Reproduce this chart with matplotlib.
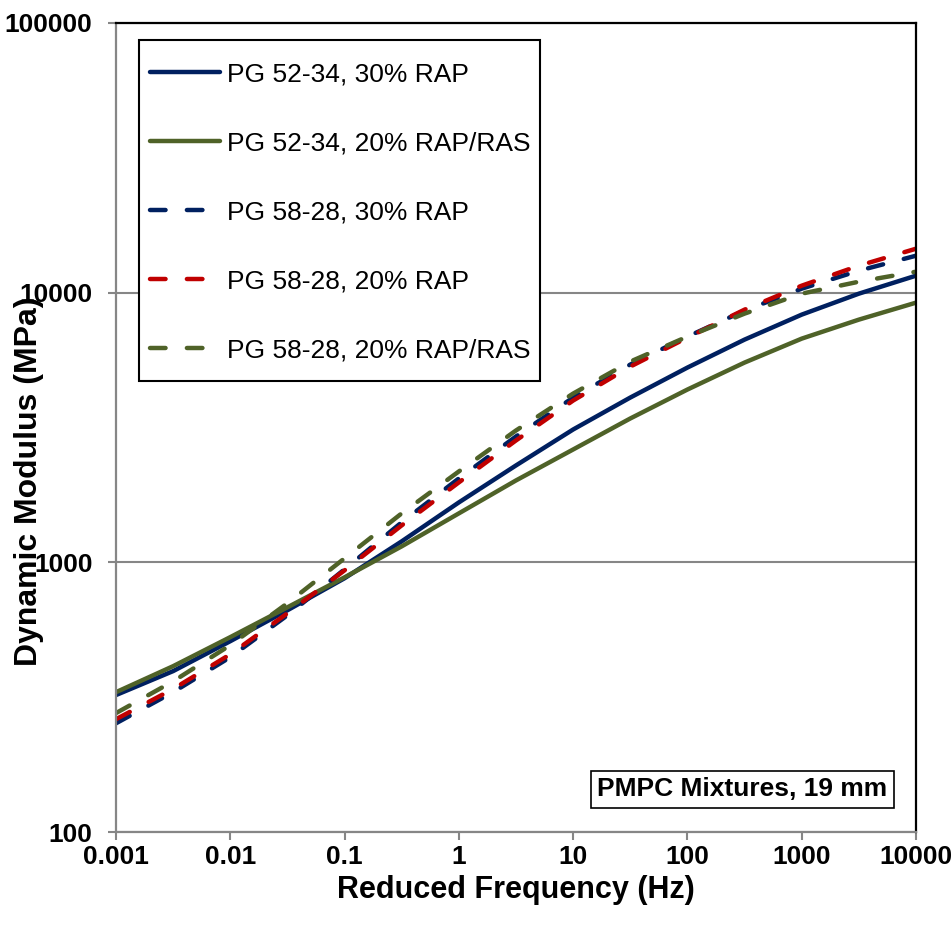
import matplotlib

matplotlib.use("Agg")
import matplotlib.pyplot as plt
from matplotlib.patches import Rectangle
from matplotlib.ticker import FixedLocator, FuncFormatter, NullLocator

# reduced frequency (Hz), half-decade readings
FREQ = [0.001, 0.00316, 0.01, 0.0316, 0.1, 0.316, 1, 3.16, 10, 31.6,
        100, 316, 1000, 3162, 10000]

# dynamic modulus (MPa)
PG5234_30RAP = [322, 395, 510, 664, 873, 1196, 1668, 2287, 3109, 4083,
                5275, 6697, 8290, 9915, 11561]
PG5234_20RAPRAS = [330, 412, 528, 681, 880, 1146, 1519, 2012, 2621, 3415,
                   4373, 5505, 6754, 7943, 9183]
PG5828_30RAP = [253, 330, 445, 636, 942, 1407, 2047, 2929, 4083, 5412,
                6871, 8577, 10347, 12063, 13709]
PG5828_20RAP = [262, 339, 456, 647, 934, 1371, 1979, 2831, 3981, 5319,
                6813, 8650, 10615, 12589, 14555]
PG5828_20RAPRAS = [276, 362, 493, 705, 1035, 1519, 2173, 3083, 4225, 5551,
                   6871, 8361, 9915, 10982, 11960]

X_TICKS = [0.001, 0.01, 0.1, 1, 10, 100, 1000, 10000]
Y_TICKS = [100, 1000, 10000, 100000]

NAVY = "#002060"
OLIVE = "#4F6228"
RED = "#C00000"
GRAY = "#868686"

plt.rcParams["font.family"] = ["Liberation Sans", "DejaVu Sans"]

fig = plt.figure(figsize=(9.51, 9.30), dpi=100)
ax = fig.add_axes([116 / 951, 1 - 832 / 930, 800 / 951, 809 / 930])

lw = 3.2
dash = (0, (3.5, 4.8))
series = [
    (PG5234_30RAP, NAVY, "-", "PG 52-34, 30% RAP"),
    (PG5234_20RAPRAS, OLIVE, "-", "PG 52-34, 20% RAP/RAS"),
    (PG5828_30RAP, NAVY, dash, "PG 58-28, 30% RAP"),
    (PG5828_20RAP, RED, dash, "PG 58-28, 20% RAP"),
    (PG5828_20RAPRAS, OLIVE, dash, "PG 58-28, 20% RAP/RAS"),
]
for values, color, style, label in series:
    ax.plot(FREQ, values, color=color, linestyle=style, linewidth=lw,
            dash_capstyle="round", solid_capstyle="round",
            solid_joinstyle="round", label=label)

ax.set_xscale("log")
ax.set_yscale("log")
ax.set_xlim(0.001, 10000)
ax.set_ylim(100, 100000)

ax.xaxis.set_major_locator(FixedLocator(X_TICKS))
ax.yaxis.set_major_locator(FixedLocator(Y_TICKS))
ax.xaxis.set_minor_locator(NullLocator())
ax.yaxis.set_minor_locator(NullLocator())
fmt = FuncFormatter(lambda v, pos: f"{v:g}")
ax.xaxis.set_major_formatter(fmt)
ax.yaxis.set_major_formatter(fmt)

ax.tick_params(axis="both", direction="out", length=6, width=1.5,
               color=GRAY, labelsize=19)
ax.tick_params(axis="x", pad=3)
ax.tick_params(axis="y", pad=11)
for lab in ax.get_xticklabels() + ax.get_yticklabels():
    lab.set_fontweight("bold")

ax.grid(axis="y", color=GRAY, linewidth=1.5)
ax.set_axisbelow(True)

for side in ("left", "bottom"):
    ax.spines[side].set_color(GRAY)
    ax.spines[side].set_linewidth(1.6)
for side in ("top", "right"):
    ax.spines[side].set_color("black")
    ax.spines[side].set_linewidth(1.6)

ax.set_xlabel("Reduced Frequency (Hz)", fontsize=22, fontweight="bold")
ax.set_ylabel("Dynamic Modulus (MPa)", fontsize=23, fontweight="bold")
ax.xaxis.set_label_coords(0.5, -0.053)
ax.yaxis.set_label_coords(-0.09, 0.433)

# legend box drawn by hand so its padding can match the original
ax.add_patch(Rectangle((0.0288, 0.5575), 0.5012, 0.4215,
                       transform=ax.transAxes, facecolor="white",
                       edgecolor="black", linewidth=1.5, zorder=4))
leg = ax.legend(loc="upper left", bbox_to_anchor=(0.0425, 0.951),
                borderaxespad=0, fontsize=19, handlelength=2.65,
                handletextpad=0.25, labelspacing=1.7, borderpad=0,
                frameon=False)
leg.set_zorder(5)

ax.text(0.783, 0.053, "PMPC Mixtures, 19 mm", transform=ax.transAxes,
        ha="center", va="center", fontsize=19, fontweight="bold",
        bbox=dict(boxstyle="square,pad=0.25", facecolor="white",
                  edgecolor="black", linewidth=1.2))

fig.savefig("out.png", dpi=100)
